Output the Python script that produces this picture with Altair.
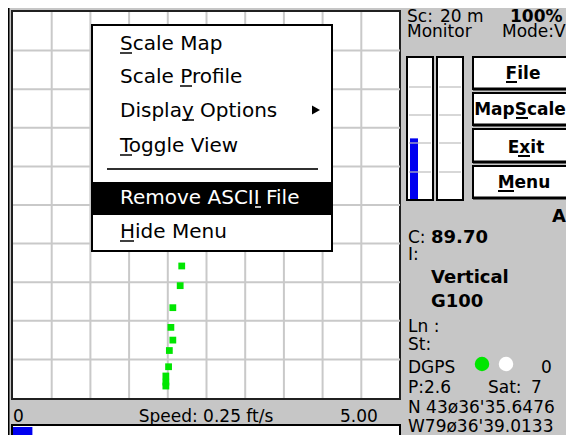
import altair as alt
import pandas as pd

# ---------------- data ----------------
MENU_ITEMS = ["Scale Map", "Scale Profile", "Display Options", "Toggle View",
              "Remove ASCII File", "Hide Menu"]
MENU_SELECTED = "Remove ASCII File"
MENU_HAS_SUBMENU = ["Display Options"]
BUTTON_LABELS = ["File", "MapScale", "Exit", "Menu"]

# GPS track, in map-grid cells (10 x 10 grid, origin top-left)
TRACK_CELL_X = [4.36, 4.32, 4.13, 4.08, 4.13, 4.04, 4.02, 3.95, 3.95, 3.95]
TRACK_CELL_Y = [6.58, 7.09, 7.66, 8.17, 8.50, 8.77, 9.19, 9.43, 9.59, 9.69]

SIGNAL_LEVELS = [0.43, 0.0]       # the two level bars
SPEED = 0.25                      # ft/s
SPEED_MAX = 5.00

SCALE_TEXT = "20 m"
ZOOM_TEXT = "100%"
MODE_TEXT = "Mode:V"
COURSE = "89.70"
INSTR = ["Vertical", "G100"]
DGPS_AGE = "0"
PDOP = "2.6"
SATS = "7"
LAT = "N 43ø36'35.6476"
LON = "W79ø36'39.0133"

# ---------------- layout (pixels of the 574 x 435 screen) ----------------
FONT = "DejaVu Sans"
GRAY = "#c6c6c6"
GRID = "#c9c9c9"
GREEN = "#00e600"
BLUE = "#0000f0"
MAP_X0, MAP_Y0, MAP_X1, MAP_Y1 = 13, 12, 400, 398
CW = (MAP_X1 - MAP_X0) / 10
CH = (MAP_Y1 - MAP_Y0) / 10

PAGE_X0, PAGE_Y0 = 8, 8
VIEW_W, VIEW_H = 558, 427
XS = alt.Scale(domain=[PAGE_X0, PAGE_X0 + VIEW_W], nice=False, zero=False)
YS = alt.Scale(domain=[PAGE_Y0, PAGE_Y0 + VIEW_H], nice=False, zero=False, reverse=True)


def X(f):
    return alt.X(f, type="quantitative", scale=XS, axis=None)


def Y(f):
    return alt.Y(f, type="quantitative", scale=YS, axis=None)


def rect_layer(rows):
    df = pd.DataFrame(rows, columns=["x0", "y0", "x1", "y1", "fill", "stroke", "sw"])
    return alt.Chart(df).mark_rect().encode(
        x=X("x0"), x2="x1", y=Y("y0"), y2="y1",
        fill=alt.Fill("fill:N", scale=None),
        stroke=alt.Stroke("stroke:N", scale=None),
        strokeWidth=alt.StrokeWidth("sw:Q", scale=None),
    )


def rule_layer(rows, opacity=1.0):
    df = pd.DataFrame(rows, columns=["x0", "y0", "x1", "y1", "c", "w"])
    return alt.Chart(df).mark_rule(opacity=opacity).encode(
        x=X("x0"), x2="x1", y=Y("y0"), y2="y1",
        color=alt.Color("c:N", scale=None),
        strokeWidth=alt.StrokeWidth("w:Q", scale=None),
    )


def text_layer(rows, size, weight="normal", align="left", color="black"):
    df = pd.DataFrame(rows, columns=["t", "x", "y"])
    return alt.Chart(df).mark_text(
        font=FONT, fontSize=size, fontWeight=weight, align=align,
        baseline="alphabetic", color=color,
    ).encode(x=X("x"), y=Y("y"), text="t:N")


layers = []

# background & frames
layers.append(rect_layer([
    [8, 8, 580, 440, GRAY, GRAY, 0],
    [8, 8, 9.5, 440, "black", "black", 0],
    [MAP_X0 - 1, MAP_Y0 - 1, MAP_X1, MAP_Y1 + 1, "white", "#202020", 2],
]))

# map grid
grid = []
for k in range(1, 10):
    gx = MAP_X0 + k * CW
    grid.append([gx, MAP_Y0, gx, MAP_Y1, GRID, 2])
    gy = MAP_Y0 + k * CH
    grid.append([MAP_X0, gy, MAP_X1, gy, GRID, 2])
layers.append(rule_layer(grid))

# track
track = pd.DataFrame({
    "x": [MAP_X0 + c * CW for c in TRACK_CELL_X],
    "y": [MAP_Y0 + c * CH for c in TRACK_CELL_Y],
})
layers.append(alt.Chart(track).mark_square(size=46, color=GREEN, opacity=1).encode(x=X("x"), y=Y("y")))

# popup menu
MENU_X0, MENU_X1, MENU_Y0, MENU_Y1 = 92, 332, 25, 251
item_base = [50, 83, 117, 152, 204, 238]
sel = MENU_ITEMS.index(MENU_SELECTED)
layers.append(rect_layer([
    [MENU_X0, MENU_Y0, MENU_X1, MENU_Y1, "white", "black", 2],
    [MENU_X0 + 1, 182, MENU_X1 - 1, 215, "black", "black", 0],
]))
layers.append(rule_layer([[107, 169, 318, 169, "#303030", 2]]))
layers.append(text_layer([[t, 120, b] for i, (t, b) in enumerate(zip(MENU_ITEMS, item_base)) if i != sel], 20))
layers.append(text_layer([[MENU_ITEMS[sel], 120, item_base[sel]]], 20, color="white"))
arrow = pd.DataFrame({"x": [316], "y": [item_base[MENU_ITEMS.index(m)] - 7 for m in MENU_HAS_SUBMENU]})
layers.append(alt.Chart(arrow).mark_point(shape="triangle-right", filled=True, size=85, color="black", opacity=1).encode(x=X("x"), y=Y("y")))
layers.append(rule_layer([
    [120, 53, 132, 53, "black", 1.5],
    [180, 86, 192, 86, "black", 1.5],
    [182, 120, 194, 120, "black", 1.5],
    [120, 155, 132, 155, "black", 1.5],
    [120, 241, 134, 241, "black", 1.5],
    [255, 207, 261, 207, "white", 1.5],
]))

# level bars
BAR_Y0, BAR_Y1 = 57, 200
bars = [[407, BAR_Y0, 433, BAR_Y1, "white", "black", 2], [437, BAR_Y0, 463, BAR_Y1, "white", "black", 2]]
layers.append(rect_layer(bars))
fills = []
for (bx0, _, bx1, _, _, _, _), lv in zip(bars, SIGNAL_LEVELS):
    if lv > 0:
        fills.append([bx0 + 3, BAR_Y1 - 1 - lv * (BAR_Y1 - BAR_Y0 - 2), bx0 + 11, BAR_Y1 - 1, BLUE, BLUE, 0])
layers.append(rect_layer(fills))
bl = []
for bx0, _, bx1, _, _, _, _ in bars:
    for gy in [87, 115, 143, 172]:
        bl.append([bx0 + 2, gy, bx1 - 2, gy, "#bdbdbd", 1.5])
layers.append(rule_layer(bl, opacity=0.8))

# buttons
btn_y = [(57, 89), (93, 125), (129, 162), (166, 198)]
layers.append(rect_layer([[473, y0, 600, y1, "white", "black", 2] for y0, y1 in btn_y]))
layers.append(rule_layer([[473, y1, 600, y1, "black", 3] for y0, y1 in btn_y]))
btn_base = [79, 115, 153, 188]
btn_cx = [523, 520, 526, 524]
layers.append(text_layer([[t, cx, b] for t, cx, b in zip(BUTTON_LABELS, btn_cx, btn_base)], 17, weight="bold", align="center"))
layers.append(rule_layer([
    [506, 82, 517, 82, "black", 2],
    [516, 118, 528, 118, "black", 2],
    [518, 156, 530, 156, "black", 2],
    [498, 191, 514, 191, "black", 2],
]))

# status texts
layers.append(text_layer([
    ["Sc:", 407, 22], [SCALE_TEXT, 440, 22], ["Monitor", 407, 37], [MODE_TEXT, 502, 37],
    ["C:", 408, 243], ["I:", 408, 260], ["Ln :", 408, 332], ["St:", 408, 350],
    ["DGPS", 408, 373], [DGPS_AGE, 541, 373], ["P:" + PDOP, 408, 393], ["Sat:", 488, 393],
    [SATS, 531, 393], [LAT, 408, 413], [LON, 408, 432],
    ["0", 13, 422], [f"{SPEED_MAX:.2f}", 340, 422],
], 17))
layers.append(text_layer([[f"Speed: {SPEED:.2f} ft/s", 206, 422]], 17, align="center"))
layers.append(text_layer([[ZOOM_TEXT, 510, 22]], 17, weight="bold"))
layers.append(text_layer([
    [COURSE, 431, 243], [INSTR[0], 431, 283], [INSTR[1], 431, 307],
], 18, weight="bold"))
layers.append(text_layer([["A", 566, 222]], 18, weight="bold", align="right"))

# DGPS lights
lights = pd.DataFrame({"x": [482, 506], "y": [364, 364], "c": [GREEN, "white"]})
layers.append(alt.Chart(lights).mark_circle(size=210, opacity=1).encode(
    x=X("x"), y=Y("y"), color=alt.Color("c:N", scale=None)))

# speed bar
SB_X0, SB_X1 = 12, 400
layers.append(rect_layer([
    [SB_X0, 425, SB_X1, 437, "white", "black", 2],
    [SB_X0 + 1, 427, SB_X0 + 1 + SPEED / SPEED_MAX * (SB_X1 - SB_X0), 437, BLUE, BLUE, 0],
]))

chart = alt.layer(*layers).properties(
    width=VIEW_W, height=VIEW_H, padding=0,
    autosize=alt.AutoSizeParams(type="none"),
).configure_view(strokeWidth=0).configure(background=GRAY)

chart.save("out.html", embed_options={"renderer": "svg", "actions": False})
